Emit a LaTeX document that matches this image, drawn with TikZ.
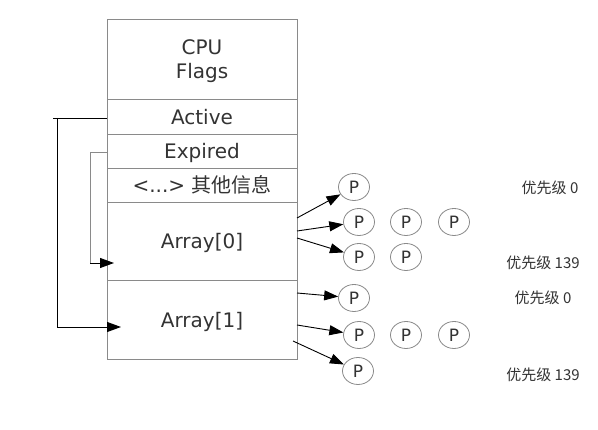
\documentclass[tikz,border=0pt]{standalone}
\usepackage{fontspec}
\setmainfont{DejaVu Sans}
\newfontfamily\cjk{Noto Sans CJK SC}
\usetikzlibrary{arrows.meta,shapes.geometric}
\definecolor{boxgray}{HTML}{8A8A8A}
\definecolor{txt}{HTML}{333333}
\begin{document}
\begin{tikzpicture}[x=1pt,y=-1pt,
  sect/.style={draw=boxgray,line width=0.9pt,minimum width=190pt,inner sep=0pt,text=txt,font=\fontsize{20}{24}\selectfont},
  one/.style={text height=16pt,text depth=0pt},
  proc/.style={ellipse,draw=boxgray,line width=0.8pt,minimum width=31pt,minimum height=27pt,inner sep=0pt,text=txt,font=\fontsize{17}{19}\selectfont},
  arr/.style={-{Triangle[length=14pt,width=10pt]},black,line width=0.9pt},
  prio/.style={text=txt,font=\cjk\fontsize{15}{17}\selectfont}]
\useasboundingbox (0,0) rectangle (598,430);
\node[sect,align=center,text height=40pt,text depth=0pt,minimum height=80pt] (cpu) at (202,59) {CPU\\Flags};
\node[sect,one,minimum height=35pt] (active) at (202,116.5) {Active};
\node[sect,one,minimum height=34pt] (expired) at (202,151) {Expired};
\node[sect,one,minimum height=34pt] (other) at (202,185) {<...> {\cjk 其他信息}};
\node[sect,one,minimum height=78pt] (arr0) at (202,241) {Array[0]};
\node[sect,one,minimum height=79pt] (arr1) at (202,319.5) {Array[1]};
% processes
\node[proc] (p1) at (354,187) {P};
\node[proc] (p2a) at (359,222) {P};
\node[proc] (p2b) at (406,222) {P};
\node[proc] (p2c) at (454,222) {P};
\node[proc] (p3a) at (359,257) {P};
\node[proc] (p3b) at (406,257) {P};
\node[proc] (p4) at (354,298) {P};
\node[proc] (p5a) at (359,335) {P};
\node[proc] (p5b) at (406,335) {P};
\node[proc] (p5c) at (454,335) {P};
\node[proc] (p6) at (358,371) {P};
% priority labels
\node[prio] (l1) at (550,188) {优先级 0};
\node[prio] (l2) at (543,263) {优先级 139};
\node[prio] (l3) at (543,298) {优先级 0};
\node[prio] (l4) at (543,375) {优先级 139};
% arrows from arrays
\coordinate (s1) at (297,218);
\coordinate (s2) at (297,231);
\coordinate (s3) at (297,238);
\coordinate (s4) at (297,293);
\coordinate (s5) at (297,325);
\coordinate (s6) at (293,341);
\draw[arr] (s1) -- (p1);
\draw[arr] (s2) -- (p2a);
\draw[arr] (s3) -- (p3a);
\draw[arr] (s4) -- (p4);
\draw[arr] (s5) -- (p5a);
\draw[arr] (s6) -- (p6);
% active pointer
\coordinate (ah) at (53,118);
\coordinate (at) at (57,118);
\coordinate (ab) at (57,328);
\coordinate (abh) at (57,327);
\coordinate (ain) at (121,327);
\draw[black,line width=0.8pt] (active.west |- ah) -- (ah);
\draw[black,line width=0.8pt] (at) -- (ab);
\draw[arr] (abh) -- (ain);
% expired pointer
\coordinate (et) at (90,152);
\coordinate (eb) at (90,263);
\coordinate (ein) at (114,263);
\draw[boxgray,line width=0.8pt] (expired.west |- et) -- (et) -- (eb);
\draw[arr] (eb) -- (ein);
\end{tikzpicture}
\end{document}
